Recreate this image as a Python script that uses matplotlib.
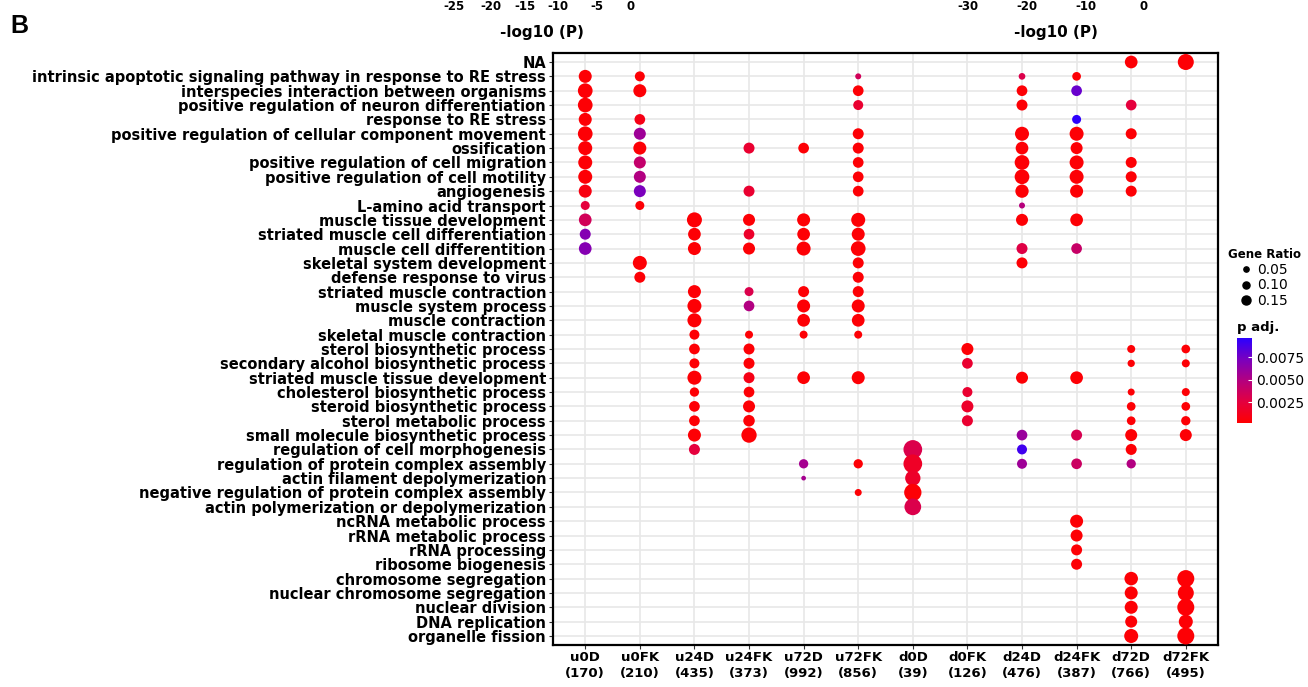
import numpy as np
import matplotlib
matplotlib.use('Agg')
import matplotlib.pyplot as plt
from matplotlib.colors import LinearSegmentedColormap, Normalize
from matplotlib.lines import Line2D
import matplotlib.colorbar as mcolorbar

plt.rcParams['font.family'] = ['DejaVu Sans']

terms = ['NA',
         'intrinsic apoptotic signaling pathway in response to RE stress',
         'interspecies interaction between organisms',
         'positive regulation of neuron differentiation',
         'response to RE stress',
         'positive regulation of cellular component movement',
         'ossification',
         'positive regulation of cell migration',
         'positive regulation of cell motility',
         'angiogenesis',
         'L-amino acid transport',
         'muscle tissue development',
         'striated muscle cell differentiation',
         'muscle cell differentition',
         'skeletal system development',
         'defense response to virus',
         'striated muscle contraction',
         'muscle system process',
         'muscle contraction',
         'skeletal muscle contraction',
         'sterol biosynthetic process',
         'secondary alcohol biosynthetic process',
         'striated muscle tissue development',
         'cholesterol biosynthetic process',
         'steroid biosynthetic process',
         'sterol metabolic process',
         'small molecule biosynthetic process',
         'regulation of cell morphogenesis',
         'regulation of protein complex assembly',
         'actin filament depolymerization',
         'negative regulation of protein complex assembly',
         'actin polymerization or depolymerization',
         'ncRNA metabolic process',
         'rRNA metabolic process',
         'rRNA processing',
         'ribosome biogenesis',
         'chromosome segregation',
         'nuclear chromosome segregation',
         'nuclear division',
         'DNA replication',
         'organelle fission']

groups = ['u0D', 'u0FK', 'u24D', 'u24FK', 'u72D', 'u72FK',
          'd0D', 'd0FK', 'd24D', 'd24FK', 'd72D', 'd72FK']
group_counts = [170, 210, 435, 373, 992, 856, 39, 126, 476, 387, 766, 495]

# (term index, gene ratio, p adj.)
u0D = [(1, .130, .0004), (2, .147, .0004), (3, .147, .0004), (4, .130, .0004),
       (5, .147, .0004), (6, .140, .0004), (7, .140, .0004), (8, .140, .0004),
       (9, .130, .0008), (10, .090, .0025), (11, .127, .0035), (12, .110, .0068),
       (13, .127, .0068)]
u0FK = [(1, .100, .0004), (2, .130, .0004), (4, .107, .0010), (5, .120, .0058),
        (6, .130, .0004), (7, .120, .0042), (8, .120, .0050), (9, .120, .0072),
        (10, .090, .0004), (14, .140, .0004), (15, .110, .0004)]
u24D = [(11, .150, .0004), (12, .127, .0004), (13, .130, .0004), (16, .130, .0004),
        (17, .140, .0004), (18, .140, .0004), (19, .100, .0004), (20, .107, .0004),
        (21, .100, .0004), (22, .140, .0004), (23, .093, .0004), (24, .107, .0004),
        (25, .107, .0004), (26, .130, .0004), (27, .110, .0025)]
u24FK = [(6, .110, .0020), (9, .110, .0020), (11, .120, .0004), (12, .107, .0018),
         (13, .120, .0004), (16, .090, .0030), (17, .107, .0050), (19, .080, .0004),
         (20, .110, .0004), (21, .110, .0004), (22, .110, .0010), (23, .107, .0004),
         (24, .120, .0004), (25, .115, .0004), (26, .153, .0004)]
u72D = [(6, .107, .0004), (11, .130, .0004), (12, .127, .0004), (13, .140, .0004),
        (16, .110, .0004), (17, .130, .0004), (18, .127, .0004), (19, .080, .0004),
        (22, .127, .0004), (28, .093, .0055), (29, .047, .0055)]
u72FK = [(1, .060, .0035), (2, .107, .0004), (3, .100, .0020), (5, .110, .0004),
         (6, .110, .0004), (7, .107, .0004), (8, .107, .0004), (9, .107, .0004),
         (11, .140, .0004), (12, .130, .0004), (13, .147, .0004), (14, .110, .0004),
         (15, .110, .0004), (16, .110, .0004), (17, .130, .0004), (18, .127, .0004),
         (19, .080, .0004), (22, .130, .0004), (28, .093, .0004), (30, .070, .0004)]
d0D = [(27, .187, .0030), (28, .187, .0016), (29, .153, .0018), (30, .173, .0004),
       (31, .167, .0030)]
d0FK = [(20, .120, .0004), (21, .107, .0020), (23, .100, .0020), (24, .120, .0018),
        (25, .110, .0020)]
d24D = [(1, .067, .0030), (2, .107, .0004), (3, .110, .0004), (5, .140, .0004),
        (6, .127, .0004), (7, .147, .0004), (8, .147, .0004), (9, .133, .0004),
        (10, .060, .0048), (11, .120, .0004), (13, .110, .0028), (14, .110, .0004),
        (22, .120, .0004), (26, .107, .0060), (27, .100, .0090), (28, .100, .0058)]
d24FK = [(1, .087, .0004), (2, .107, .0078), (4, .090, .0095), (5, .140, .0004),
         (6, .120, .0004), (7, .140, .0004), (8, .140, .0004), (9, .130, .0004),
         (11, .127, .0004), (13, .107, .0040), (22, .127, .0004), (26, .110, .0032),
         (28, .107, .0038), (32, .130, .0004), (33, .120, .0004), (34, .110, .0004),
         (35, .110, .0004)]
d72D = [(0, .127, .0004), (3, .107, .0025), (5, .110, .0004), (7, .110, .0004),
        (8, .110, .0004), (9, .110, .0004), (20, .080, .0004), (21, .073, .0004),
        (23, .070, .0004), (24, .087, .0004), (25, .087, .0004), (26, .120, .0004),
        (27, .110, .0004), (28, .093, .0050), (36, .135, .0004), (37, .130, .0004),
        (38, .130, .0004), (39, .120, .0004), (40, .140, .0004)]
d72FK = [(0, .160, .0004), (20, .087, .0004), (21, .080, .0004), (23, .080, .0004),
         (24, .087, .0004), (25, .093, .0004), (26, .120, .0004), (36, .170, .0004),
         (37, .160, .0004), (38, .170, .0004), (39, .140, .0004), (40, .170, .0004)]

group_dots = [u0D, u0FK, u24D, u24FK, u72D, u72FK, d0D, d0FK, d24D, d24FK, d72D, d72FK]

size_legend = [0.05, 0.10, 0.15]
padj_ticks = [0.0025, 0.0050, 0.0075]

cmap = LinearSegmentedColormap.from_list(
    'padj', [(0, '#FF0000'), (0.25, '#E4003F'), (0.5, '#B4007F'),
             (0.75, '#7A00BE'), (1, '#2B00FF')])
norm = Normalize(vmin=0.0002, vmax=0.0096)

fig = plt.figure(figsize=(13.08, 6.87), dpi=100)
ax = fig.add_axes([0.4228, 0.0611, 0.5084, 0.8618])

xs, ys, ss, cs = [], [], [], []
for gi, dots in enumerate(group_dots):
    for (ti, ratio, p) in dots:
        xs.append(gi)
        ys.append(ti)
        ss.append((72 * ratio) ** 2)
        cs.append(p)
ax.scatter(xs, ys, s=ss, c=cs, cmap=cmap, norm=norm, linewidths=0, zorder=3)

ax.set_xlim(-0.59, len(groups) - 1 + 0.59)
ax.set_ylim(len(terms) - 1 + 0.63, -0.63)
ax.set_xticks(np.arange(len(groups)))
ax.set_xticklabels([f'{g}\n({n})' for g, n in zip(groups, group_counts)],
                   fontsize=9.5, fontweight='bold', linespacing=1.35)
ax.set_yticks(np.arange(len(terms)))
ax.set_yticklabels(terms, fontsize=10.5, fontweight='bold')
ax.grid(True, color='#E8E8E8', linewidth=1.2, zorder=0)
ax.set_axisbelow(True)
ax.tick_params(length=3, width=0.8, color='#333333', pad=2)
ax.tick_params(axis='x', pad=1)
for sp in ax.spines.values():
    sp.set_linewidth(1.6)

# size legend
fig.text(1228 / 1308, 1 - 255 / 687, 'Gene Ratio', fontsize=8.5,
         fontweight='bold', va='center', ha='left')
handles = [Line2D([], [], linestyle='none', marker='o', color='black',
                  markersize=ms, label=f'{v:.2f}')
           for v, ms in zip(size_legend, [3.8, 5.1, 6.5])]
leg = fig.legend(handles=handles, loc='upper left',
                 bbox_to_anchor=(1240 / 1308, 1 - 263 / 687), frameon=False,
                 fontsize=10, handlelength=0.8, handletextpad=0.4,
                 labelspacing=0.1, borderpad=0, borderaxespad=0)

fig.text(0.9455, 0.523, 'p adj.', fontsize=9.5, fontweight='bold', va='center')
cax = fig.add_axes([0.9455, 0.384, 0.0115, 0.124])
cb = mcolorbar.ColorbarBase(cax, cmap=cmap, norm=norm, ticks=padj_ticks)
cb.outline.set_visible(False)
cb.ax.set_yticklabels([f'{t:.4f}' for t in padj_ticks], fontsize=10)
cb.ax.tick_params(direction='in', color='white', length=3, pad=3)

# fragments of neighbouring panels
narrow = ['Liberation Sans Narrow', 'DejaVu Sans']
for v, x in zip([-25, -20, -15, -10, -5, 0], [454, 491, 525, 558, 597, 631]):
    fig.text(x / 1308, 1 - 6 / 687, str(v), ha='center', va='center',
             fontsize=8.5, fontweight='bold', family=narrow)
for v, x in zip([-30, -20, -10, 0], [968, 1027, 1086, 1144]):
    fig.text(x / 1308, 1 - 6 / 687, str(v), ha='center', va='center',
             fontsize=8.5, fontweight='bold', family=narrow)
fig.text(542 / 1308, 1 - 32 / 687, '-log10 (P)', ha='center', va='center',
         fontsize=11, fontweight='bold', family=narrow)
fig.text(1056 / 1308, 1 - 32 / 687, '-log10 (P)', ha='center', va='center',
         fontsize=11, fontweight='bold', family=narrow)
fig.text(10 / 1308, 1 - 26 / 687, 'B', ha='left', va='center',
         fontsize=18, fontweight='bold', family=['Liberation Sans', 'DejaVu Sans'])

fig.savefig('out.png', dpi=100)
